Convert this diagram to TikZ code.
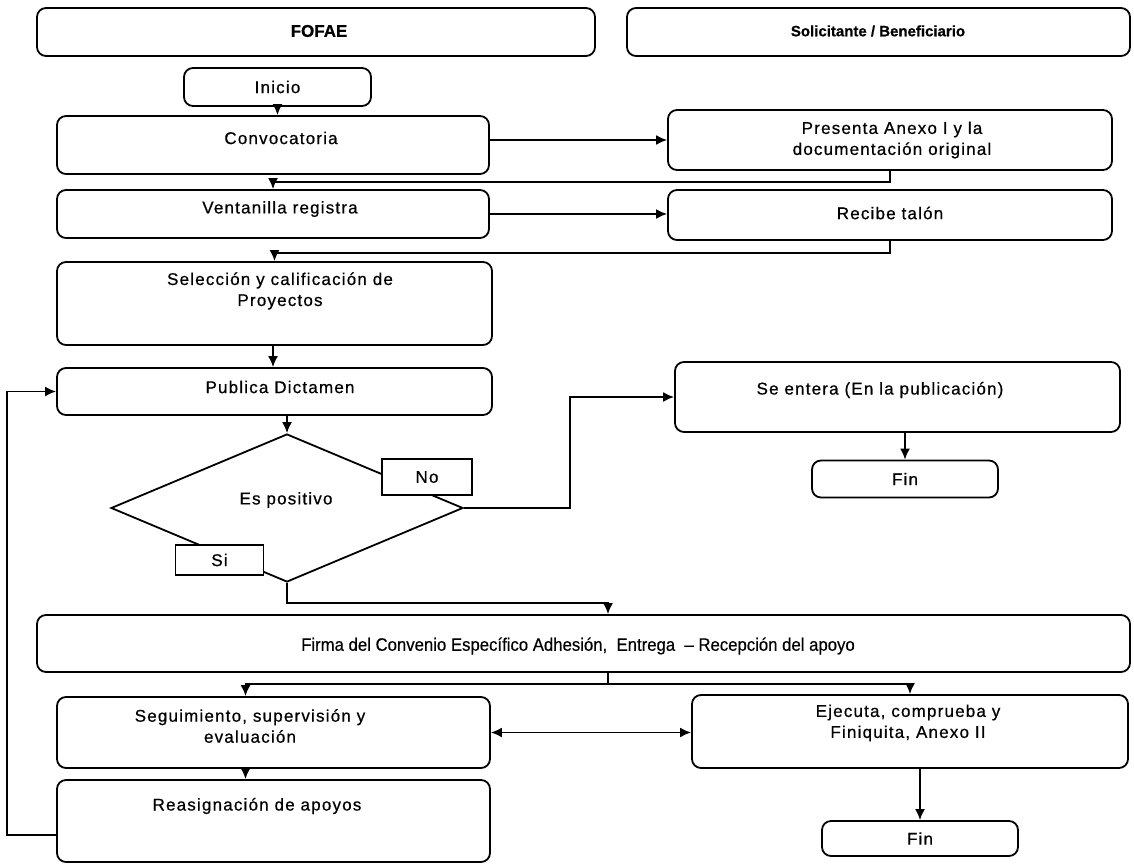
\documentclass[tikz,border=0pt]{standalone}
\usepackage{fontspec}
\setmainfont{Liberation Sans}[LetterSpace=7, FakeBold=0.6]
\newfontfamily\headfont{Liberation Sans}[FakeBold=0.6]
\newfontfamily\narrowsans{Liberation Sans}[FakeStretch=0.93, FakeBold=0.4]
\usetikzlibrary{arrows.meta,calc,shapes.geometric}

\begin{document}
\begin{tikzpicture}[x=1pt,y=-1pt,
  box/.style={draw, line width=1.8pt, rounded corners=9pt, inner sep=0pt},
  tag/.style={draw, line width=1.8pt, inner sep=0pt, font=\fontsize{17}{21}\selectfont},
  txt/.style={font=\fontsize{17}{21}\selectfont, align=center, inner sep=0pt},
  head/.style={font=\headfont\fontsize{15}{19}\selectfont\bfseries, inner sep=0pt},
  conn/.style={line width=1.8pt},
  tip/.tip={Latex[length=11pt,width=10pt]},
  arr/.style={conn, -tip},
]
\useasboundingbox[fill=white] (0,0) rectangle (1134,867);

% lane headers
\node[box, minimum width=558, minimum height=48] (fofae) at (316,32) {};
\node[head, font=\headfont\fontsize{17}{21}\selectfont\bfseries] (fofae-t) at (319,31) {FOFAE};
\node[box, minimum width=503, minimum height=48] (solic) at (878.5,32) {};
\node[head] (solic-t) at (878,31) {Solicitante / Beneficiario};

% FOFAE column
\node[box, minimum width=187, minimum height=38] (inicio) at (277.5,87) {};
\node[txt] (inicio-t) at (inicio) {Inicio};
\node[box, minimum width=432, minimum height=58] (conv) at (273,145) {};
\node[txt] (conv-t) at (281,138) {Convocatoria};
\node[box, minimum width=432, minimum height=48] (vent) at (273,214) {};
\node[txt] (vent-t) at (280,209) {Ventanilla registra};
\node[box, minimum width=435, minimum height=83] (selec) at (274.5,303.5) {};
\node[txt] (selec-t) at (280,291) {Selección y calificación de\\Proyectos};
\node[box, minimum width=435, minimum height=47] (publ) at (274.5,391.5) {};
\node[txt] (publ-t) at (280,387) {Publica Dictamen};

% decision
\node[draw, line width=1.8pt, diamond, aspect=2.41, minimum width=352, minimum height=148, inner sep=0pt] (dec) at (287,508) {};
\node[txt] (dec-t) at (286,500) {Es positivo};
\node[tag, fill=white, minimum width=90, minimum height=36] (no) at (427,477) {No};
\node[tag, fill=white, minimum width=88, minimum height=30] (si) at (219.5,560) {Si};

% applicant column
\node[box, minimum width=444, minimum height=60] (pres) at (890,140) {};
\node[txt] (pres-t) at (892,140) {Presenta Anexo I y la\\documentación original};
\node[box, minimum width=444, minimum height=50] (recibe) at (890,215) {};
\node[txt] (recibe-t) at (890,213) {Recibe talón};
\node[box, minimum width=445, minimum height=70] (sent) at (897.5,397) {};
\node[txt] (sent-t) at (880,390) {Se entera (En la publicación)};
\node[box, minimum width=186, minimum height=37] (fin1) at (905,479) {};
\node[txt] (fin1-t) at (fin1) {Fin};

% agreement
\node[box, minimum width=1093, minimum height=57] (firma) at (583.5,643.5) {};
\node[txt, font=\narrowsans\fontsize{18}{22}\selectfont] (firma-t) at (578,646) {Firma del Convenio Específico Adhesión,\ \ Entrega \ – Recepción del apoyo};

% follow-up
\node[box, minimum width=433, minimum height=71] (seg) at (273.5,732.5) {};
\node[txt] (seg-t) at (250,726) {Seguimiento, supervisión y\\evaluación};
\node[box, minimum width=433, minimum height=82] (reas) at (273.5,821) {};
\node[txt] (reas-t) at (257,806) {Reasignación de apoyos};
\node[box, minimum width=436, minimum height=73] (ejec) at (910,731.5) {};
\node[txt] (ejec-t) at (908,723) {Ejecuta, comprueba y\\Finiquita, Anexo II};
\node[box, minimum width=196, minimum height=35] (fin2) at (920,838.5) {};
\node[txt] (fin2-t) at (fin2) {Fin};

% connectors
\draw[arr] (inicio.south) -- (inicio.south |- conv.north);
\draw[arr] (conv.east |- pres.west) -- (pres.west);
\draw[arr] (pres.south) -- ++(0,11) -| (vent.north);
\draw[arr] (vent.east) -- (vent.east -| recibe.west);
\draw[arr] (recibe.south) -- ++(0,12) -| (selec.north);
\draw[arr] (selec.south -| vent.north) -- (vent.north |- publ.north);
\draw[arr] (publ.south -| dec.north) -- (dec.north);
\draw[arr] (dec.east) -- ++(106,0) |- (sent.west);
\draw[arr] (sent.south -| fin1.north) -- (fin1.north);
\coordinate (firmain) at ($(firma.north)+(24.5,0)$);
\draw[arr] (dec.south) -- ++(0,20) -| (firmain);
\coordinate (firmaout) at ($(firma.south)+(24.5,0)$);
\coordinate (split) at ($(firmaout)+(0,11)$);
\coordinate (segin) at ($(seg.north)+(-28,0)$);
\draw[conn] (firmaout) -- (split);
\draw[arr] (split) -| (segin);
\draw[arr] (split) -| (ejec.north);
\draw[conn, tip-tip] (seg.east) -- (seg.east -| ejec.west);
\draw[arr] (ejec.south -| fin2.north) -- (fin2.north);
\draw[arr] (seg.south -| segin) -- (segin |- reas.north);
\coordinate (reasout) at ($(reas.west)+(0,14)$);
\draw[arr] (reasout) -- ++(-49,0) |- (publ.west);
\end{tikzpicture}
\end{document}
